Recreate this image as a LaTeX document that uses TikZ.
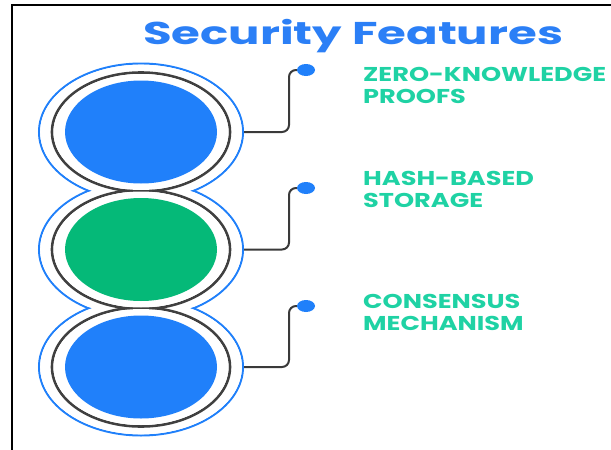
\documentclass[tikz,border=0pt]{standalone}
\usepackage{fontspec}
\setmainfont{Poppins}
\newfontfamily\titlefont[FakeStretch=1.48]{Poppins Bold}
\newfontfamily\widefont[FakeStretch=1.28]{Poppins Bold}
\usetikzlibrary{shapes.geometric, positioning, calc}

\definecolor{featblue}{HTML}{2080FA}
\definecolor{titleblue}{HTML}{2B7FF6}
\definecolor{featgreen}{HTML}{05B978}
\definecolor{labelteal}{HTML}{1FD2A4}
\definecolor{linkgray}{HTML}{3A3A3A}

\begin{document}
\begin{tikzpicture}[
    x=1pt, y=-1pt,
    outerring/.style={ellipse, draw=featblue, line width=2pt, minimum width=204pt, minimum height=137pt, inner sep=0pt},
    core/.style={ellipse, minimum width=152pt, minimum height=103pt, inner sep=0pt},
    tipdot/.style={ellipse, fill=featblue, minimum width=18pt, minimum height=12pt, inner sep=0pt},
    link/.style={draw=linkgray, line width=2pt, rounded corners=7pt},
    featlabel/.style={anchor=north west, inner sep=0pt, align=left, text=labelteal, font=\widefont\fontsize{20}{22}\selectfont}
]
\useasboundingbox (0,0) rectangle (611,450);
\draw[line width=2pt] (12,450) -- (12,5) -- (611,5);

\node[anchor=base west, inner sep=0pt, text=titleblue, font=\titlefont\fontsize{31.5}{36}\selectfont] (title) at (143,44) {Security Features};

% rings, drawn as one outline
\foreach \n/\y in {zkp/132,hash/249.5,cons/367}
  \node[outerring] (\n-ring) at (141,\y) {};
\foreach \n in {zkp,hash,cons}
  \fill[white] (\n-ring.center) ellipse [x radius=100.8pt, y radius=67.3pt];
\foreach \n in {zkp,hash,cons}
  \draw[black!75, line width=2.6pt] (\n-ring.center) ellipse [x radius=89pt, y radius=59.5pt];
\foreach \n in {zkp,hash,cons}
  \fill[white] (\n-ring.center) ellipse [x radius=87.5pt, y radius=58pt];

\node[core, fill=featblue] (zkp) at (zkp-ring.center) {};
\node[core, fill=featgreen] (hash) at (hash-ring.center) {};
\node[core, fill=featblue] (cons) at (cons-ring.center) {};

\node[tipdot] (zkp-dot) at (306,70) {};
\node[tipdot] (hash-dot) at (306,188) {};
\node[tipdot] (cons-dot) at (306,306) {};

\draw[link] (zkp-ring.east) -- ++(45,0) |- (zkp-dot.west);
\draw[link] (hash-ring.east) -- ++(45,0) |- (hash-dot.west);
\draw[link] (cons-ring.east) -- ++(45,0) |- (cons-dot.west);

\node[featlabel] (zkp-text) at (363,67) {ZERO-KNOWLEDGE\\PROOFS};
\node[featlabel] (hash-text) at (363,171) {HASH-BASED\\STORAGE};
\node[featlabel] (cons-text) at (363,294) {CONSENSUS\\MECHANISM};
\end{tikzpicture}
\end{document}
